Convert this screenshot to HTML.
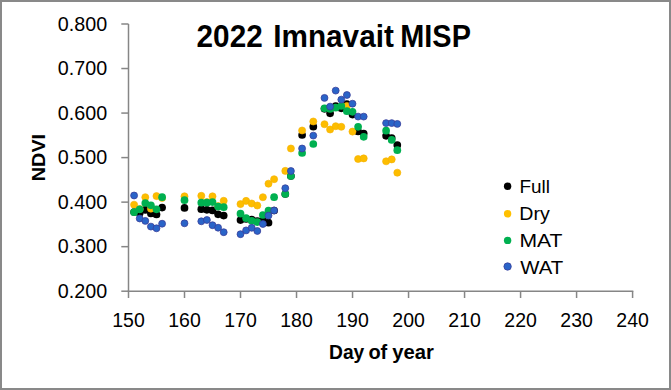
<!DOCTYPE html>
<html><head><meta charset="utf-8"><style>
html,body{margin:0;padding:0;background:#fff;width:671px;height:390px;overflow:hidden;}
svg{display:block;font-family:"Liberation Sans", sans-serif;}
</style></head><body>
<svg width="671" height="390" viewBox="0 0 671 390"><rect x="1" y="1" width="669" height="388" fill="#fff" stroke="#898989" stroke-width="2"/>
<g stroke="#868686" stroke-width="1.5" fill="none">
<line x1="128.5" y1="24.0" x2="128.5" y2="291.95"/>
<line x1="127.75" y1="291.2" x2="633.3399999999999" y2="291.2"/>
<line x1="121.3" y1="24.00" x2="128.5" y2="24.00"/>
<line x1="121.3" y1="68.53" x2="128.5" y2="68.53"/>
<line x1="121.3" y1="113.07" x2="128.5" y2="113.07"/>
<line x1="121.3" y1="157.60" x2="128.5" y2="157.60"/>
<line x1="121.3" y1="202.13" x2="128.5" y2="202.13"/>
<line x1="121.3" y1="246.67" x2="128.5" y2="246.67"/>
<line x1="121.3" y1="291.20" x2="128.5" y2="291.20"/>
<line x1="128.50" y1="291.2" x2="128.50" y2="298"/>
<line x1="184.51" y1="291.2" x2="184.51" y2="298"/>
<line x1="240.52" y1="291.2" x2="240.52" y2="298"/>
<line x1="296.53" y1="291.2" x2="296.53" y2="298"/>
<line x1="352.54" y1="291.2" x2="352.54" y2="298"/>
<line x1="408.55" y1="291.2" x2="408.55" y2="298"/>
<line x1="464.56" y1="291.2" x2="464.56" y2="298"/>
<line x1="520.57" y1="291.2" x2="520.57" y2="298"/>
<line x1="576.58" y1="291.2" x2="576.58" y2="298"/>
<line x1="632.59" y1="291.2" x2="632.59" y2="298"/>
</g>
<g font-family='"Liberation Sans", sans-serif' font-size="19.5" fill="#000" text-anchor="end">
<text x="107.2" y="30.5" textLength="49.4" lengthAdjust="spacingAndGlyphs">0.800</text>
<text x="107.2" y="75.0" textLength="49.4" lengthAdjust="spacingAndGlyphs">0.700</text>
<text x="107.2" y="119.6" textLength="49.4" lengthAdjust="spacingAndGlyphs">0.600</text>
<text x="107.2" y="164.1" textLength="49.4" lengthAdjust="spacingAndGlyphs">0.500</text>
<text x="107.2" y="208.6" textLength="49.4" lengthAdjust="spacingAndGlyphs">0.400</text>
<text x="107.2" y="253.2" textLength="49.4" lengthAdjust="spacingAndGlyphs">0.300</text>
<text x="107.2" y="297.7" textLength="49.4" lengthAdjust="spacingAndGlyphs">0.200</text>
</g>
<g font-family='"Liberation Sans", sans-serif' font-size="19.5" fill="#000" text-anchor="middle">
<text x="128.5" y="326.5">150</text>
<text x="184.5" y="326.5">160</text>
<text x="240.5" y="326.5">170</text>
<text x="296.5" y="326.5">180</text>
<text x="352.5" y="326.5">190</text>
<text x="408.6" y="326.5">200</text>
<text x="464.6" y="326.5">210</text>
<text x="520.6" y="326.5">220</text>
<text x="576.6" y="326.5">230</text>
<text x="632.6" y="326.5">240</text>
</g>
<text x="196.6" y="46.8" font-family='"Liberation Sans", sans-serif' font-weight="bold" font-size="30.5" textLength="66.1" lengthAdjust="spacingAndGlyphs">2022</text>
<text x="273.3" y="46.8" font-family='"Liberation Sans", sans-serif' font-weight="bold" font-size="30.5" textLength="120.5" lengthAdjust="spacingAndGlyphs">Imnavait</text>
<text x="400.3" y="46.8" font-family='"Liberation Sans", sans-serif' font-weight="bold" font-size="30.5" textLength="70.6" lengthAdjust="spacingAndGlyphs">MISP</text>
<text x="329.0" y="359.0" font-family='"Liberation Sans", sans-serif' font-weight="bold" font-size="19.5" textLength="35.3" lengthAdjust="spacingAndGlyphs">Day</text>
<text x="368.4" y="359.0" font-family='"Liberation Sans", sans-serif' font-weight="bold" font-size="19.5" textLength="18.9" lengthAdjust="spacingAndGlyphs">of</text>
<text x="392.2" y="359.0" font-family='"Liberation Sans", sans-serif' font-weight="bold" font-size="19.5" textLength="41.6" lengthAdjust="spacingAndGlyphs">year</text>
<text transform="translate(45.0,181.2) rotate(-90)" x="0" y="0" font-family='"Liberation Sans", sans-serif' font-weight="bold" font-size="18" textLength="47.3" lengthAdjust="spacingAndGlyphs">NDVI</text>
<g fill="#000000" stroke="#000000" stroke-width="0"><circle cx="134.1" cy="212.0" r="3.85"/><circle cx="139.7" cy="213.0" r="3.85"/><circle cx="145.3" cy="209.9" r="3.85"/><circle cx="150.9" cy="213.4" r="3.85"/><circle cx="156.5" cy="214.5" r="3.85"/><circle cx="162.1" cy="207.6" r="3.85"/><circle cx="184.5" cy="207.9" r="3.85"/><circle cx="201.3" cy="209.2" r="3.85"/><circle cx="206.9" cy="209.8" r="3.85"/><circle cx="212.5" cy="210.4" r="3.85"/><circle cx="218.1" cy="214.3" r="3.85"/><circle cx="223.7" cy="215.6" r="3.85"/><circle cx="240.5" cy="220.1" r="3.85"/><circle cx="246.1" cy="219.0" r="3.85"/><circle cx="251.7" cy="219.5" r="3.85"/><circle cx="257.3" cy="221.0" r="3.85"/><circle cx="262.9" cy="220.0" r="3.85"/><circle cx="268.5" cy="222.7" r="3.85"/><circle cx="274.1" cy="210.5" r="3.85"/><circle cx="285.3" cy="194.0" r="3.85"/><circle cx="290.9" cy="176.0" r="3.85"/><circle cx="302.1" cy="135.0" r="3.85"/><circle cx="313.3" cy="126.7" r="3.85"/><circle cx="324.5" cy="108.8" r="3.85"/><circle cx="330.1" cy="113.3" r="3.85"/><circle cx="335.7" cy="106.0" r="3.85"/><circle cx="341.3" cy="108.3" r="3.85"/><circle cx="346.9" cy="104.0" r="3.85"/><circle cx="352.5" cy="114.6" r="3.85"/><circle cx="358.1" cy="131.5" r="3.85"/><circle cx="363.7" cy="133.5" r="3.85"/><circle cx="386.1" cy="135.8" r="3.85"/><circle cx="391.7" cy="138.0" r="3.85"/><circle cx="397.3" cy="145.0" r="3.85"/></g>
<g fill="#FDBD00" stroke="#F5B000" stroke-width="0.6"><circle cx="134.1" cy="204.7" r="3.55"/><circle cx="139.7" cy="209.0" r="3.55"/><circle cx="145.3" cy="197.2" r="3.55"/><circle cx="150.9" cy="208.7" r="3.55"/><circle cx="156.5" cy="196.1" r="3.55"/><circle cx="162.1" cy="198.0" r="3.55"/><circle cx="184.5" cy="196.3" r="3.55"/><circle cx="201.3" cy="195.8" r="3.55"/><circle cx="206.9" cy="202.0" r="3.55"/><circle cx="212.5" cy="196.3" r="3.55"/><circle cx="218.1" cy="206.0" r="3.55"/><circle cx="223.7" cy="200.8" r="3.55"/><circle cx="240.5" cy="204.1" r="3.55"/><circle cx="246.1" cy="200.9" r="3.55"/><circle cx="251.7" cy="203.5" r="3.55"/><circle cx="257.3" cy="205.5" r="3.55"/><circle cx="262.9" cy="197.2" r="3.55"/><circle cx="268.5" cy="183.7" r="3.55"/><circle cx="274.1" cy="179.2" r="3.55"/><circle cx="285.3" cy="170.9" r="3.55"/><circle cx="290.9" cy="148.5" r="3.55"/><circle cx="302.1" cy="130.5" r="3.55"/><circle cx="313.3" cy="121.5" r="3.55"/><circle cx="324.5" cy="124.2" r="3.55"/><circle cx="330.1" cy="129.5" r="3.55"/><circle cx="335.7" cy="126.2" r="3.55"/><circle cx="341.3" cy="126.8" r="3.55"/><circle cx="346.9" cy="106.0" r="3.55"/><circle cx="352.5" cy="131.6" r="3.55"/><circle cx="358.1" cy="159.0" r="3.55"/><circle cx="363.7" cy="158.4" r="3.55"/><circle cx="386.1" cy="161.3" r="3.55"/><circle cx="391.7" cy="159.4" r="3.55"/><circle cx="397.3" cy="172.7" r="3.55"/></g>
<g fill="#00B050" stroke="#00B050" stroke-width="0"><circle cx="134.1" cy="212.2" r="3.85"/><circle cx="139.7" cy="209.3" r="3.85"/><circle cx="145.3" cy="203.0" r="3.85"/><circle cx="150.9" cy="205.3" r="3.85"/><circle cx="156.5" cy="209.3" r="3.85"/><circle cx="162.1" cy="197.2" r="3.85"/><circle cx="184.5" cy="200.2" r="3.85"/><circle cx="201.3" cy="202.7" r="3.85"/><circle cx="206.9" cy="202.7" r="3.85"/><circle cx="212.5" cy="202.1" r="3.85"/><circle cx="218.1" cy="206.6" r="3.85"/><circle cx="223.7" cy="207.2" r="3.85"/><circle cx="240.5" cy="213.7" r="3.85"/><circle cx="246.1" cy="218.2" r="3.85"/><circle cx="251.7" cy="220.8" r="3.85"/><circle cx="257.3" cy="222.1" r="3.85"/><circle cx="262.9" cy="215.0" r="3.85"/><circle cx="268.5" cy="210.5" r="3.85"/><circle cx="274.1" cy="197.2" r="3.85"/><circle cx="285.3" cy="194.0" r="3.85"/><circle cx="290.9" cy="176.0" r="3.85"/><circle cx="302.1" cy="153.0" r="3.85"/><circle cx="313.3" cy="144.0" r="3.85"/><circle cx="324.5" cy="108.3" r="3.85"/><circle cx="330.1" cy="109.0" r="3.85"/><circle cx="335.7" cy="107.7" r="3.85"/><circle cx="341.3" cy="106.0" r="3.85"/><circle cx="346.9" cy="111.2" r="3.85"/><circle cx="352.5" cy="111.8" r="3.85"/><circle cx="358.1" cy="126.8" r="3.85"/><circle cx="363.7" cy="136.8" r="3.85"/><circle cx="386.1" cy="130.7" r="3.85"/><circle cx="391.7" cy="139.9" r="3.85"/><circle cx="397.3" cy="150.2" r="3.85"/></g>
<g fill="#2A64C8" stroke="#3A3F9A" stroke-width="0.8"><circle cx="134.1" cy="195.5" r="3.45"/><circle cx="139.7" cy="218.5" r="3.45"/><circle cx="145.3" cy="220.9" r="3.45"/><circle cx="150.9" cy="226.6" r="3.45"/><circle cx="156.5" cy="228.3" r="3.45"/><circle cx="162.1" cy="223.7" r="3.45"/><circle cx="184.5" cy="223.3" r="3.45"/><circle cx="201.3" cy="221.3" r="3.45"/><circle cx="206.9" cy="220.0" r="3.45"/><circle cx="212.5" cy="225.2" r="3.45"/><circle cx="218.1" cy="227.7" r="3.45"/><circle cx="223.7" cy="232.2" r="3.45"/><circle cx="240.5" cy="234.2" r="3.45"/><circle cx="246.1" cy="230.4" r="3.45"/><circle cx="251.7" cy="227.8" r="3.45"/><circle cx="257.3" cy="231.0" r="3.45"/><circle cx="262.9" cy="224.0" r="3.45"/><circle cx="268.5" cy="215.6" r="3.45"/><circle cx="274.1" cy="210.5" r="3.45"/><circle cx="285.3" cy="188.2" r="3.45"/><circle cx="290.9" cy="171.0" r="3.45"/><circle cx="302.1" cy="148.5" r="3.45"/><circle cx="313.3" cy="135.6" r="3.45"/><circle cx="324.5" cy="97.9" r="3.45"/><circle cx="330.1" cy="106.6" r="3.45"/><circle cx="335.7" cy="90.6" r="3.45"/><circle cx="341.3" cy="99.6" r="3.45"/><circle cx="346.9" cy="95.0" r="3.45"/><circle cx="352.5" cy="103.7" r="3.45"/><circle cx="358.1" cy="116.6" r="3.45"/><circle cx="363.7" cy="116.6" r="3.45"/><circle cx="386.1" cy="123.1" r="3.45"/><circle cx="391.7" cy="123.1" r="3.45"/><circle cx="397.3" cy="123.9" r="3.45"/></g>
<circle cx="507.6" cy="186.2" r="3.7" fill="#000"/>
<text x="519.4" y="193.1" font-family='"Liberation Sans", sans-serif' font-size="19" textLength="30.5" lengthAdjust="spacingAndGlyphs">Full</text>
<circle cx="507.6" cy="213.8" r="3.7" fill="#FFC000"/>
<text x="519.3" y="220.0" font-family='"Liberation Sans", sans-serif' font-size="19" textLength="30.5" lengthAdjust="spacingAndGlyphs">Dry</text>
<circle cx="507.6" cy="240.4" r="3.7" fill="#00B050"/>
<text x="519.4" y="247.3" font-family='"Liberation Sans", sans-serif' font-size="19" textLength="43" lengthAdjust="spacingAndGlyphs">MAT</text>
<circle cx="507.6" cy="266.5" r="3.7" fill="#2A64C8" stroke="#3A3F9A" stroke-width="0.8"/>
<text x="520.2" y="273.5" font-family='"Liberation Sans", sans-serif' font-size="19" textLength="43" lengthAdjust="spacingAndGlyphs">WAT</text></svg>
</body></html>
